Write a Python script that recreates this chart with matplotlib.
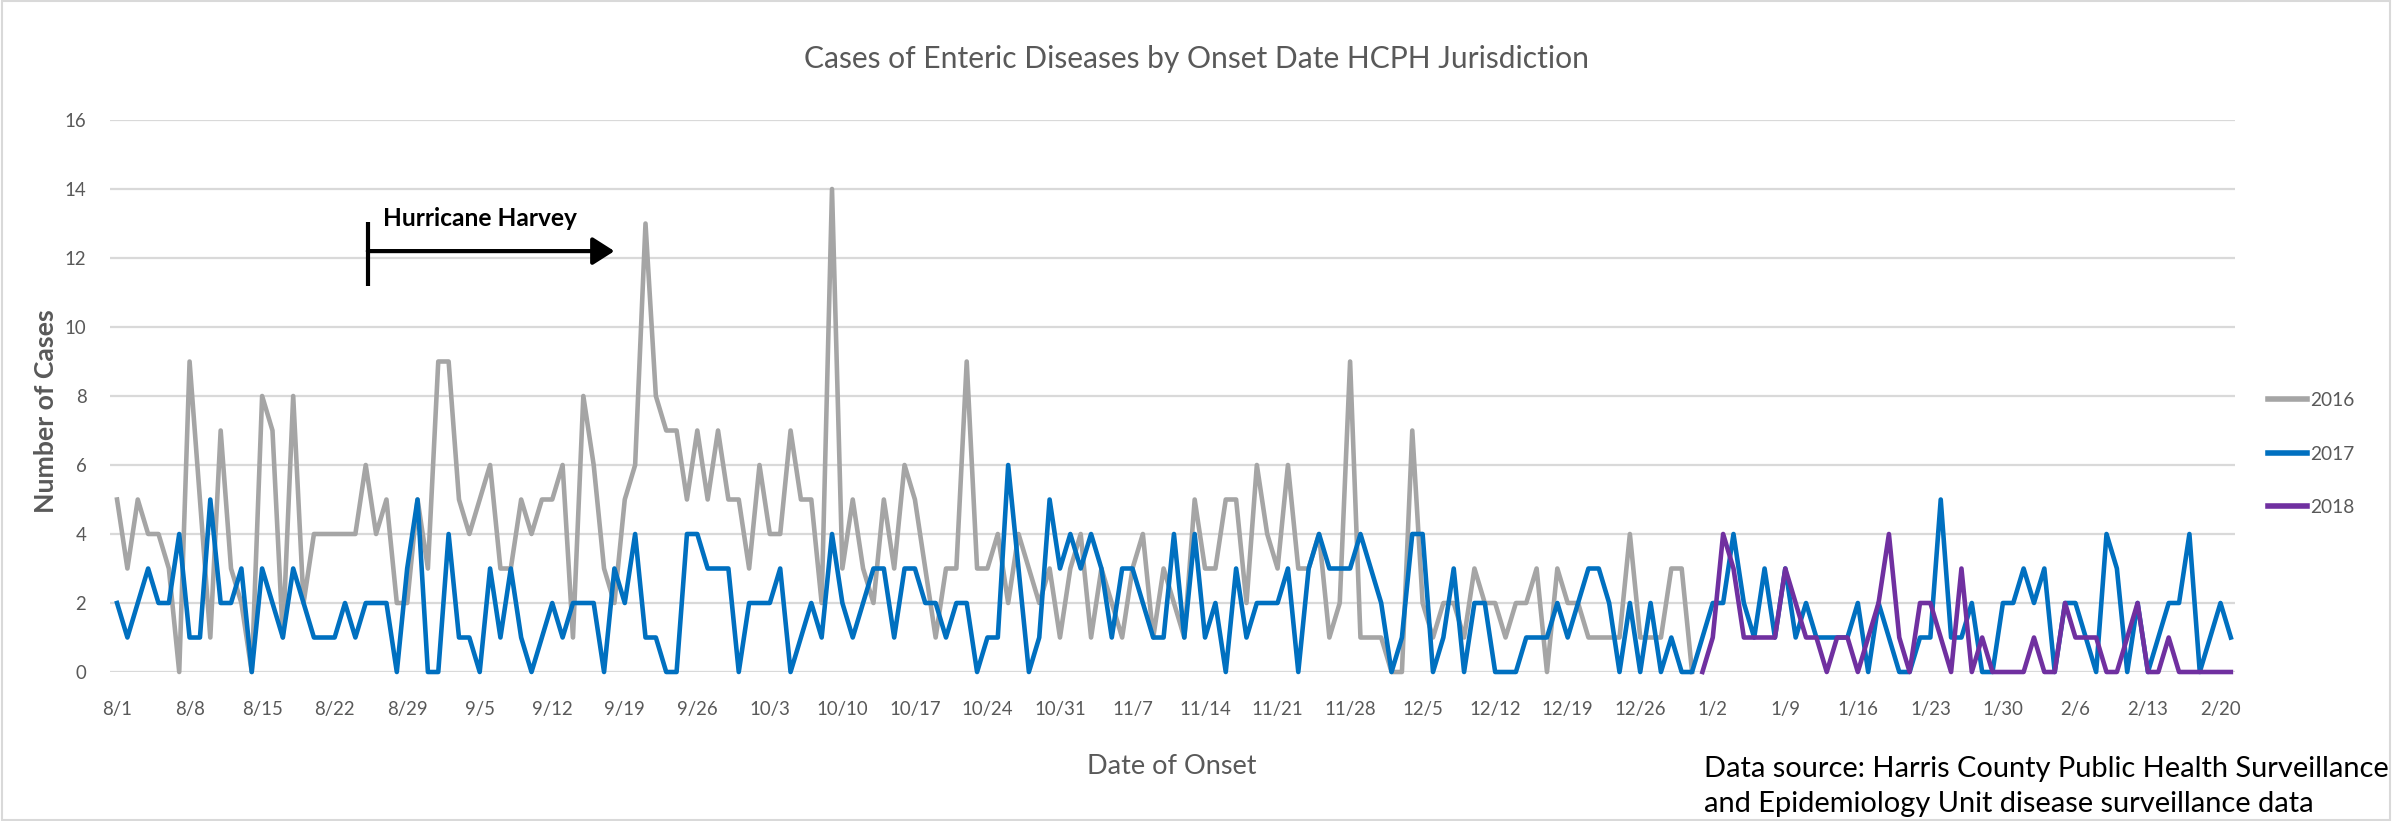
import numpy as np
import matplotlib
matplotlib.use("Agg")
import matplotlib.pyplot as plt
from matplotlib import font_manager
from matplotlib.patches import Rectangle

# ---------------- data ----------------
tick_labels = ["8/1", "8/8", "8/15", "8/22", "8/29", "9/5", "9/12", "9/19", "9/26",
               "10/3", "10/10", "10/17", "10/24", "10/31", "11/7", "11/14", "11/21",
               "11/28", "12/5", "12/12", "12/19", "12/26", "1/2", "1/9", "1/16",
               "1/23", "1/30", "2/6", "2/13", "2/20"]

cases_2016 = [5, 3, 5, 4, 4, 3, 0, 9, 5, 1,
              7, 3, 2, 0, 8, 7, 1, 8, 2, 4,
              4, 4, 4, 4, 6, 4, 5, 2, 2, 5,
              3, 9, 9, 5, 4, 5, 6, 3, 3, 5,
              4, 5, 5, 6, 1, 8, 6, 3, 2, 5,
              6, 13, 8, 7, 7, 5, 7, 5, 7, 5,
              5, 3, 6, 4, 4, 7, 5, 5, 2, 14,
              3, 5, 3, 2, 5, 3, 6, 5, 3, 1,
              3, 3, 9, 3, 3, 4, 2, 4, 3, 2,
              3, 1, 3, 4, 1, 3, 2, 1, 3, 4,
              1, 3, 2, 1, 5, 3, 3, 5, 5, 2,
              6, 4, 3, 6, 3, 3, 4, 1, 2, 9,
              1, 1, 1, 0, 0, 7, 2, 1, 2, 2,
              1, 3, 2, 2, 1, 2, 2, 3, 0, 3,
              2, 2, 1, 1, 1, 1, 4, 1, 1, 1,
              3, 3, 0]

cases_2017 = [2, 1, 2, 3, 2, 2, 4, 1, 1, 5,
              2, 2, 3, 0, 3, 2, 1, 3, 2, 1,
              1, 1, 2, 1, 2, 2, 2, 0, 3, 5,
              0, 0, 4, 1, 1, 0, 3, 1, 3, 1,
              0, 1, 2, 1, 2, 2, 2, 0, 3, 2,
              4, 1, 1, 0, 0, 4, 4, 3, 3, 3,
              0, 2, 2, 2, 3, 0, 1, 2, 1, 4,
              2, 1, 2, 3, 3, 1, 3, 3, 2, 2,
              1, 2, 2, 0, 1, 1, 6, 3, 0, 1,
              5, 3, 4, 3, 4, 3, 1, 3, 3, 2,
              1, 1, 4, 1, 4, 1, 2, 0, 3, 1,
              2, 2, 2, 3, 0, 3, 4, 3, 3, 3,
              4, 3, 2, 0, 1, 4, 4, 0, 1, 3,
              0, 2, 2, 0, 0, 0, 1, 1, 1, 2,
              1, 2, 3, 3, 2, 0, 2, 0, 2, 0,
              1, 0, 0, 1, 2, 2, 4, 2, 1, 3,
              1, 3, 1, 2, 1, 1, 1, 1, 2, 0,
              2, 1, 0, 0, 1, 1, 5, 1, 1, 2,
              0, 0, 2, 2, 3, 2, 3, 0, 2, 2,
              1, 0, 4, 3, 0, 2, 0, 1, 2, 2,
              4, 0, 1, 2, 1]

start_2018 = 153  # day index of 1/1
cases_2018 = [0, 1, 4, 3, 1, 1, 1, 1, 3, 2,
              1, 1, 0, 1, 1, 0, 1, 2, 4, 1,
              0, 2, 2, 1, 0, 3, 0, 1, 0, 0,
              0, 0, 1, 0, 0, 2, 1, 1, 1, 0,
              0, 1, 2, 0, 0, 1, 0, 0, 0, 0,
              0, 0]

series_names = ["2016", "2017", "2018"]
harvey_start, harvey_end = 24, 48   # day indices (8/25 .. 9/18)

# ---------------- style ----------------
names = {f.name for f in font_manager.fontManager.ttflist}
NARROW = "Liberation Sans Narrow" in names
FONT = "Liberation Sans Narrow" if NARROW else "Lato"
S = 1.0 if NARROW else 0.79
plt.rcParams["font.family"] = [FONT, "DejaVu Sans"]

W, H = 2392, 821
C_GRAY, C_BLUE, C_PURPLE = "#A5A5A5", "#0070C0", "#7030A0"
TXT = "#595959"

fig = plt.figure(figsize=(W / 100, H / 100), dpi=100)
ax = fig.add_axes([110 / W, 1 - 672 / H, (2235 - 110) / W, (672 - 120) / H])

x2016 = np.arange(len(cases_2016))
x2017 = np.arange(len(cases_2017))
x2018 = np.arange(start_2018, start_2018 + len(cases_2018))

lw = 3.3
l1, = ax.plot(x2016, cases_2016, color=C_GRAY, lw=lw, clip_on=False, zorder=3)
l2, = ax.plot(x2017, cases_2017, color=C_BLUE, lw=lw, clip_on=False, zorder=4)
l3, = ax.plot(x2018, cases_2018, color=C_PURPLE, lw=lw, clip_on=False, zorder=5)

ax.set_xlim(-0.68, 204.4)
ax.set_ylim(0, 16)
ax.set_yticks(range(0, 17, 2))
ax.set_xticks(range(0, 7 * len(tick_labels), 7))
ax.set_xticklabels(tick_labels)
ax.grid(axis="y", color="#D9D9D9", lw=1.6)
ax.set_axisbelow(True)
for sp in ax.spines.values():
    sp.set_visible(False)
ax.tick_params(axis="both", length=0, colors=TXT, labelsize=17 * S)
ax.tick_params(axis="x", pad=21)
ax.tick_params(axis="y", pad=17)

renderer = fig.canvas.get_renderer()

def fit(t, target, use_height=False):
    for _ in range(3):
        bb = t.get_window_extent(renderer)
        cur = bb.height if use_height else bb.width
        t.set_fontsize(t.get_fontsize() * target / cur)

# title
t = fig.text(1197 / W, 1 - 68 / H, "Cases of Enteric Diseases by Onset Date HCPH Jurisdiction",
             ha="center", va="baseline", color=TXT, fontsize=24)
fit(t, 787)

# axis titles
yl = fig.text(46 / W, 1 - 411 / H, "Number of Cases", rotation=90, ha="center",
              va="center", color=TXT, fontweight="bold", fontsize=18)
fit(yl, 203, use_height=True)
xl = fig.text(1172 / W, 1 - 766 / H, "Date of Onset", ha="center", va="center",
              color=TXT, fontsize=16)
fit(xl, 170)

# Hurricane Harvey annotation
ht = ax.text(25.7, 12.92, "Hurricane Harvey", ha="left", va="baseline",
             fontweight="bold", color="black", fontsize=16)
fit(ht, 194)
ax.plot([harvey_start + 0.2, harvey_start + 0.2], [11.2, 13.05], color="black",
        lw=3, solid_capstyle="butt", zorder=6)
ax.annotate("", xy=(harvey_end, 12.2), xytext=(harvey_start + 0.2, 12.2),
            arrowprops=dict(arrowstyle="-|>,head_length=0.55,head_width=0.35",
                            lw=3, color="black", mutation_scale=24,
                            shrinkA=0, shrinkB=0), zorder=6)

# legend
leg = fig.legend([l1, l2, l3], series_names, loc="center left",
                 bbox_to_anchor=(2268 / W, 1 - 454 / H), frameon=False,
                 fontsize=17.5 * S, handlelength=2.05, handletextpad=0.15,
                 labelspacing=1.9, borderpad=0, borderaxespad=0)
for txt in leg.get_texts():
    txt.set_color(TXT)
for h in leg.legend_handles:
    h.set_linewidth(4)

# data source
d1 = fig.text(1704 / W, 1 - 777 / H, "Data source: Harris County Public Health Surveillance",
              ha="left", va="baseline", color="black", fontsize=20)
fit(d1, 684)
fig.text(1704 / W, 1 - 812 / H, "and Epidemiology Unit disease surveillance data",
         ha="left", va="baseline", color="black", fontsize=d1.get_fontsize())

# chart border
fig.patches.append(Rectangle((0.0008, 0.0012), 0.9984, 0.9976, transform=fig.transFigure,
                             fill=False, edgecolor="#D9D9D9", lw=1.5))

fig.savefig("out.png", dpi=100)
